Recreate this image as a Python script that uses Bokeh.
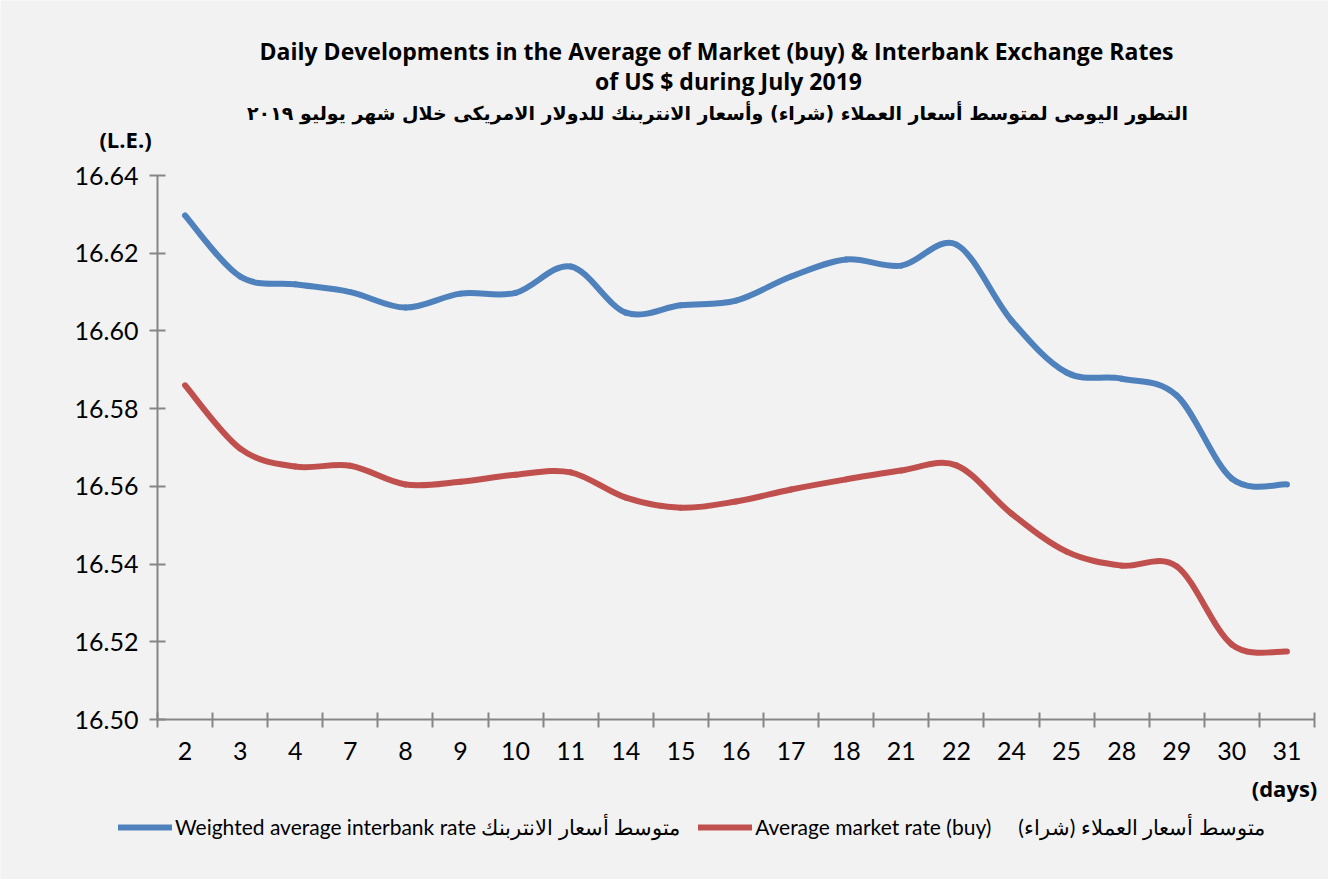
from bokeh.plotting import figure
from bokeh.models import (Range1d, FixedTicker, Legend, LegendItem, Label,
                          ColumnDataSource, NumeralTickFormatter)
from bokeh.embed import file_html
from bokeh.resources import INLINE

days = ["2", "3", "4", "7", "8", "9", "10", "11", "14", "15", "16",
        "17", "18", "21", "22", "24", "25", "28", "29", "30", "31"]
interbank = [16.6297, 16.6140, 16.6120, 16.6100, 16.6060, 16.6096, 16.6098,
             16.6166, 16.6047, 16.6066, 16.6078, 16.6140, 16.6184, 16.6168,
             16.6222, 16.6027, 16.5893, 16.5877, 16.5834, 16.5620, 16.5605]
market = [16.5860, 16.5697, 16.5651, 16.5653, 16.5605, 16.5612, 16.5630,
          16.5636, 16.5571, 16.5545, 16.5561, 16.5592, 16.5618, 16.5641,
          16.5654, 16.5530, 16.5432, 16.5396, 16.5394, 16.5193, 16.5175]
y_ticks = [16.50, 16.52, 16.54, 16.56, 16.58, 16.60, 16.62, 16.64]

title1 = "Daily Developments in the Average of Market (buy) & Interbank Exchange Rates"
title2 = "of US $ during July 2019"
title3 = "التطور اليومى لمتوسط أسعار العملاء (شراء) وأسعار الانتربنك للدولار الامريكى خلال شهر يوليو ٢٠١٩"
name_interbank = "Weighted average interbank rate متوسط أسعار الانتربنك"
name_market = "Average market rate (buy)\u00a0\u00a0\u00a0\u00a0\u00a0متوسط أسعار العملاء (شراء)"

BLUE = "#4f81bd"
RED = "#c0504d"
BG = "#f2f2f2"
AX = "#868686"
FONT = "Lato"
TFONT = "Open Sans"

# canvas layout (pixels): the frame fills the whole canvas, axes are fixed inside it
W, H = 1328, 879
L, R, T, B = 157, 1314, 175, 719
n = len(days)
centers = [i + 0.5 for i in range(n)]
ylo, yhi = y_ticks[0], y_ticks[-1]
xpp = n / (R - L)
ypp = (yhi - ylo) / (B - T)

p = figure(width=W, height=H, output_backend="svg", toolbar_location=None,
           title_location=None, min_border=0,
           x_range=Range1d(-L * xpp, n + (W - R) * xpp),
           y_range=Range1d(ylo - (H - B) * ypp, yhi + T * ypp))
p.background_fill_color = BG
p.border_fill_color = BG
p.outline_line_color = None
p.grid.visible = False

# x axis: labels at category centres, tick marks at boundaries (minor ticks)
xa = p.xaxis[0]
xa.fixed_location = ylo
xa.bounds = (0, n)
xa.ticker = FixedTicker(ticks=centers, minor_ticks=list(range(n + 1)))
xa.major_label_overrides = {c: d for c, d in zip(centers, days)}
xa.major_tick_line_color = None
xa.major_tick_out = 8
xa.minor_tick_line_color = AX
xa.minor_tick_line_width = 2
xa.minor_tick_in = 7
xa.minor_tick_out = 8
xa.axis_line_color = AX
xa.axis_line_width = 2
xa.major_label_text_font = FONT
xa.major_label_text_font_size = "25px"
xa.major_label_text_color = "black"
xa.major_label_standoff = 14

ya = p.yaxis[0]
ya.fixed_location = 0
ya.bounds = (ylo, yhi)
ya.ticker = FixedTicker(ticks=y_ticks)
ya.formatter = NumeralTickFormatter(format="0.00")
ya.minor_tick_line_color = None
ya.major_tick_line_color = AX
ya.major_tick_line_width = 2
ya.major_tick_in = 8
ya.major_tick_out = 8
ya.axis_line_color = AX
ya.axis_line_width = 2
ya.major_label_text_font = FONT
ya.major_label_text_font_size = "25px"
ya.major_label_text_color = "black"
ya.major_label_standoff = 11


def bezier_source(xs, ys):
    m = len(xs)
    x0, y0, x1, y1, cx0, cy0, cx1, cy1 = [], [], [], [], [], [], [], []
    for i in range(m - 1):
        xp, yp = (xs[i - 1], ys[i - 1]) if i > 0 else (xs[i], ys[i])
        xn, yn = (xs[i + 2], ys[i + 2]) if i + 2 < m else (xs[i + 1], ys[i + 1])
        x0.append(xs[i]); y0.append(ys[i])
        x1.append(xs[i + 1]); y1.append(ys[i + 1])
        cx0.append(xs[i] + (xs[i + 1] - xp) / 6); cy0.append(ys[i] + (ys[i + 1] - yp) / 6)
        cx1.append(xs[i + 1] - (xn - xs[i]) / 6); cy1.append(ys[i + 1] - (yn - ys[i]) / 6)
    return ColumnDataSource(dict(x0=x0, y0=y0, x1=x1, y1=y1,
                                 cx0=cx0, cy0=cy0, cx1=cx1, cy1=cy1))


r_ib = p.bezier(x0="x0", y0="y0", x1="x1", y1="y1", cx0="cx0", cy0="cy0",
                cx1="cx1", cy1="cy1", source=bezier_source(centers, interbank),
                line_color=BLUE, line_width=6, line_cap="round")
r_mk = p.bezier(x0="x0", y0="y0", x1="x1", y1="y1", cx0="cx0", cy0="cy0",
                cx1="cx1", cy1="cy1", source=bezier_source(centers, market),
                line_color=RED, line_width=6, line_cap="round")

# texts (screen units: x from the left, y from the bottom of the canvas)
tcommon = dict(x_units="screen", y_units="screen", text_align="center",
               text_baseline="middle", text_color="black", text_font_style="bold")
p.add_layout(Label(x=716, y=829, text=title1, text_font=TFONT,
                   text_font_size="23px", **tcommon))
p.add_layout(Label(x=728, y=799, text=title2, text_font=TFONT,
                   text_font_size="23px", **tcommon))
p.add_layout(Label(x=717, y=767, text=title3, text_font="DejaVu Sans",
                   text_font_size="19px", **tcommon))
p.add_layout(Label(x=125, y=741, text="(L.E.)", text_font=TFONT,
                   text_font_size="22px", **tcommon))
p.add_layout(Label(x=1284, y=92, text="(days)", text_font=TFONT,
                   text_font_size="22px", **tcommon))

legend = Legend(items=[LegendItem(label=name_interbank, renderers=[r_ib]),
                       LegendItem(label=name_market, renderers=[r_mk])],
                orientation="horizontal", location=(118, 39),
                background_fill_alpha=0, border_line_color=None,
                padding=0, margin=0, spacing=18, label_standoff=3,
                glyph_width=54, glyph_height=20,
                label_text_font=FONT, label_text_font_size="21px",
                label_text_color="black")
p.add_layout(legend)

open("out.html", "w").write(file_html(p, INLINE))
